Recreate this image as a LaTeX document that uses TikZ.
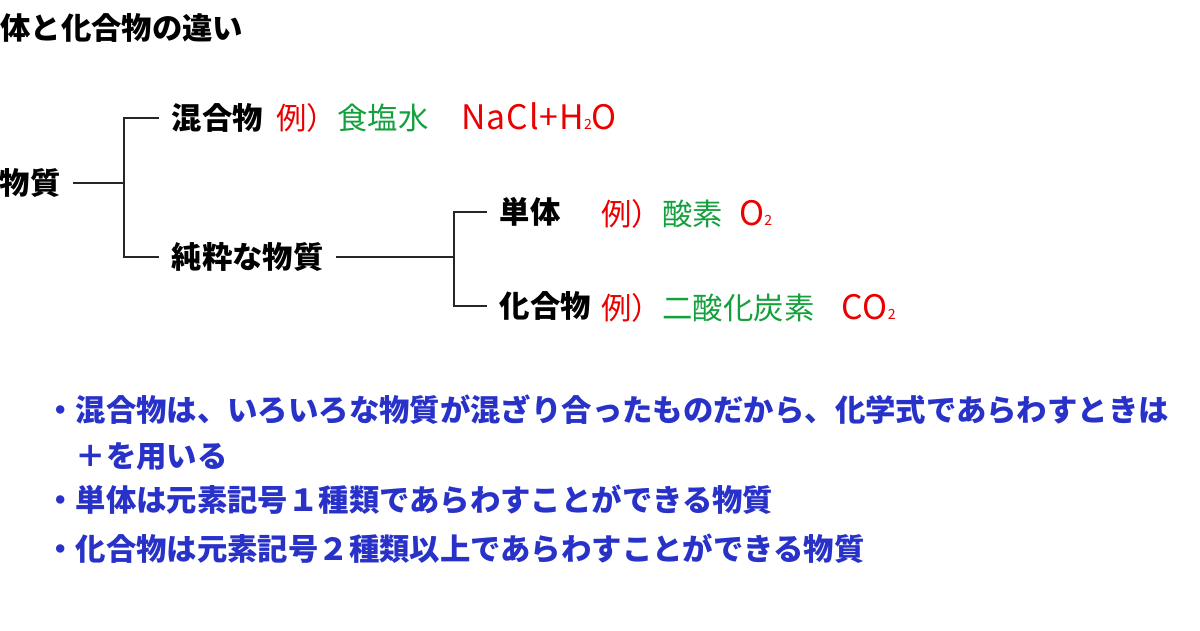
\documentclass[tikz,border=0pt]{standalone}
\usepackage{fontspec}
\setmainfont{Noto Sans CJK JP}
\usepackage{xcolor}
\usepackage{tikz}
\usetikzlibrary{positioning}
\definecolor{exred}{RGB}{235,0,0}
\definecolor{exgreen}{RGB}{20,160,60}
\definecolor{noteblue}{RGB}{40,50,200}
\newcommand{\chemsub}[1]{{\fontsize{10pt}{10pt}\selectfont #1}}

\begin{document}
\begin{tikzpicture}[x=0.025cm, y=-0.025cm,
  every node/.style={inner sep=0pt, text height=19pt, text depth=2.6pt, anchor=west},
  head/.style={font=\bfseries\fontsize{21.6pt}{26pt}\selectfont},
  term/.style={font=\bfseries\fontsize{21.6pt}{26pt}\selectfont, outer xsep=9pt},
  exred/.style={text=exred, font=\fontsize{21.6pt}{26pt}\selectfont},
  formula/.style={text=exred, font=\fontsize{24pt}{28pt}\selectfont\addfontfeature{LetterSpace=3}},
  exgreen/.style={text=exgreen, font=\fontsize{21.6pt}{26pt}\selectfont},
  note/.style={text=noteblue, font=\bfseries\fontsize{21.6pt}{26pt}\selectfont},
  branch/.style={line width=1pt, black!85}]
\useasboundingbox (0,0) rectangle (1200,630);
\node[head] (title) at (0,28) {体と化合物の違い};
\node[term] (matter) at (-13,183) {物質};
\node[term] (mix) at (159,118) {混合物};
\node[term] (pure) at (159,257) {純粋な物質};
\node[term] (elem) at (487,212) {単体};
\node[term] (comp) at (487,306) {化合物};
\node[exred] (mixex) at (276,118) {例）};
\node[exgreen] (mixname) at (mixex.east) {食塩水};
\node[formula] (mixfml) at (461,118) {NaCl+H\chemsub{2}O};
\node[exred] (elemex) at (601,214) {例）};
\node[exgreen] (elemname) at (elemex.east) {酸素};
\node[formula] (elemfml) at (739,214) {O\chemsub{2}};
\node[exred] (compex) at (601,308) {例）};
\node[exgreen] (compname) at (compex.east) {二酸化炭素};
\node[formula] (compfml) at (841,308) {CO\chemsub{2}};
\path (matter.east) ++(51,0) coordinate (fork1);
\path (pure.east) ++(118,0) coordinate (fork2);
\draw[branch] (matter.east) -- (fork1);
\draw[branch] (mix.west) -| (fork1) |- (pure.west);
\draw[branch] (pure.east) -- (fork2);
\draw[branch] (elem.west) -| (fork2) |- (comp.west);
\node[note] (note1) at (45,410) {・混合物は、いろいろな物質が混ざり合ったものだから、化学式であらわすときは};
\node[note] (note2) at (45,456) {　＋を用いる};
\node[note] (note3) at (45,500) {・単体は元素記号１種類であらわすことができる物質};
\node[note] (note4) at (45,549) {・化合物は元素記号２種類以上であらわすことができる物質};
\end{tikzpicture}
\end{document}
